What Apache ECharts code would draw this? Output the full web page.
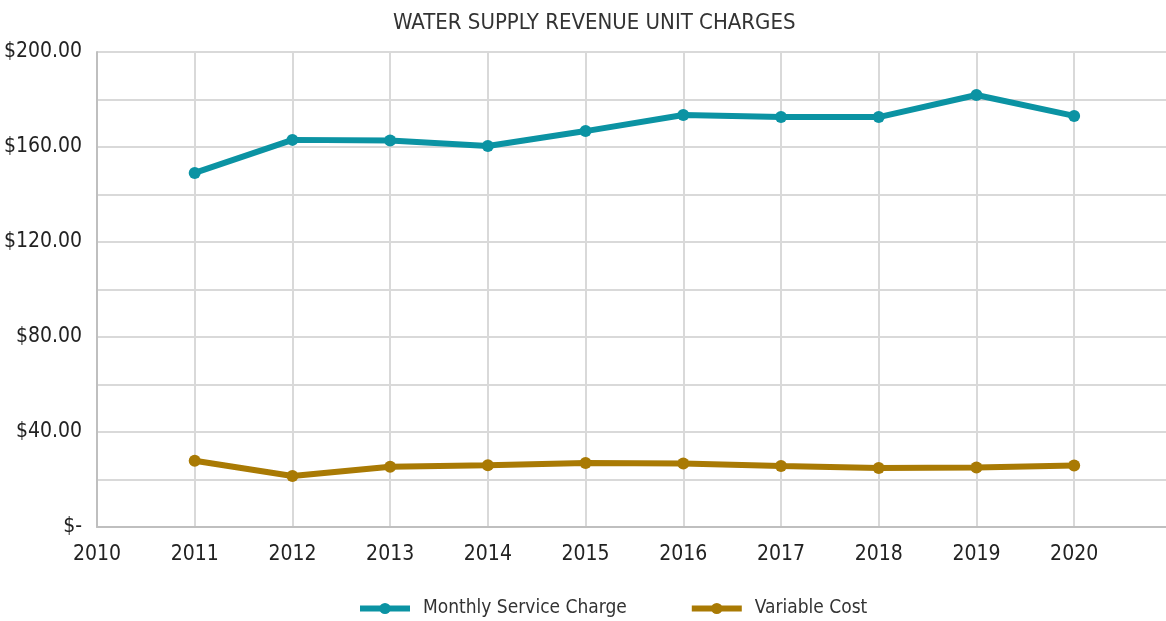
<!DOCTYPE html>
<html>
<head>
<meta charset="utf-8">
<script src="https://cdn.jsdelivr.net/npm/echarts@6/dist/echarts.min.js"></script>
<style>
  html, body { margin: 0; padding: 0; background: #fff; }
  #main { width: 1166px; height: 621px; }
</style>
</head>
<body>
<div id="main"></div>
<script>
  // years and unit charges
  var years = [2011, 2012, 2013, 2014, 2015, 2016, 2017, 2018, 2019, 2020];
  var monthlyService = [149.1, 163.0, 162.7, 160.4, 166.7, 173.5, 172.6, 172.6, 181.9, 173.1];
  var variableCost = [27.9, 21.5, 25.4, 26.0, 26.9, 26.7, 25.7, 24.8, 25.1, 25.9];
  var seriesNames = ['Monthly Service Charge', 'Variable Cost'];

  function pairs(vals) {
    return years.map(function (y, i) { return [y, vals[i]]; });
  }

  var font = '"Liberation Sans Narrow", "DejaVu Sans Condensed", "Noto Sans", sans-serif';

  var myChart = echarts.init(document.getElementById('main'));

  var option = {
    animation: false,
    title: {
      text: 'WATER SUPPLY REVENUE UNIT CHARGES',
      left: 388,
      top: 7,
      textStyle: { fontFamily: font, fontSize: 22, fontWeight: 'normal', color: '#333' }
    },
    legend: {
      top: 594,
      left: 352,
      itemWidth: 50,
      itemHeight: 14,
      itemGap: 62,
      lineStyle: { width: 6 },
      textStyle: { fontFamily: font, fontSize: 19, color: '#333', padding: [0, 0, 0, 8] },
      data: seriesNames
    },
    // the original plot is cut off just before 2021
    grid: { left: 97, top: 52, right: 0, bottom: 94 },
    xAxis: {
      type: 'value',
      min: 2010,
      max: 2020.94,
      interval: 1,
      axisLine: { lineStyle: { color: '#bfbfbf', width: 2 } },
      axisTick: { show: false },
      splitLine: { showMaxLine: false, lineStyle: { color: '#d9d9d9', width: 2 } },
      axisLabel: {
        fontFamily: font, fontSize: 21, color: '#222', margin: 17,
        showMaxLabel: false,
        formatter: function (v) { return v % 1 === 0 ? String(v) : ''; }
      }
    },
    yAxis: {
      type: 'value',
      min: 0,
      max: 200,
      interval: 20,
      axisLine: { show: true, lineStyle: { color: '#bfbfbf', width: 2 } },
      axisTick: { show: false },
      splitLine: { lineStyle: { color: '#d9d9d9', width: 2 } },
      axisLabel: {
        fontFamily: font, fontSize: 21, color: '#222', margin: 15,
        formatter: function (v) {
          if (v === 0) return '$-';
          if (v % 40 !== 0) return '';
          return '$' + v.toFixed(2);
        }
      }
    },
    series: [
      {
        name: seriesNames[0],
        type: 'line',
        data: pairs(monthlyService),
        symbol: 'circle',
        symbolSize: 12,
        lineStyle: { width: 6, color: '#0b93a3' },
        itemStyle: { color: '#0b93a3' }
      },
      {
        name: seriesNames[1],
        type: 'line',
        data: pairs(variableCost),
        symbol: 'circle',
        symbolSize: 12,
        lineStyle: { width: 6, color: '#a97a04' },
        itemStyle: { color: '#a97a04' }
      }
    ]
  };

  myChart.setOption(option);
</script>
</body>
</html>
